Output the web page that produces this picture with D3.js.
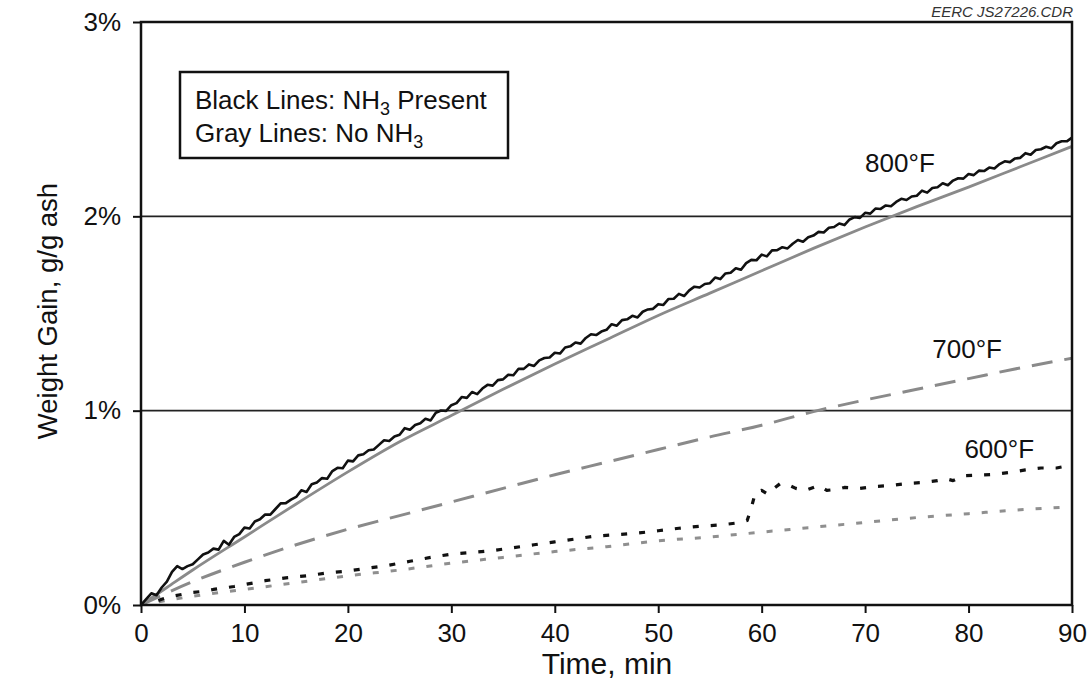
<!DOCTYPE html>
<html>
<head>
<meta charset="utf-8">
<script src="https://cdn.jsdelivr.net/npm/d3@7"></script>
<style>
  html, body { margin: 0; padding: 0; background: #fff; }
  svg { display: block; font-family: "Liberation Sans", Arial, Helvetica, sans-serif; }
</style>
</head>
<body>
<svg id="chart" width="1091" height="691"></svg>
<script>
// Weight gain (% g/g ash) versus exposure time (min)

// 800°F with NH3, logged every half minute
const logStep = 0.5;
const nh3_800 = [
  0, 0.03, 0.06, 0.05, 0.09, 0.12, 0.17, 0.20, 0.185, 0.20,
  0.21, 0.235, 0.26, 0.27, 0.29, 0.285, 0.33, 0.31, 0.35, 0.365,
  0.398, 0.394, 0.43, 0.441, 0.466, 0.465, 0.494, 0.523, 0.524, 0.542,
  0.556, 0.59, 0.582, 0.621, 0.63, 0.653, 0.65, 0.689, 0.706, 0.704,
  0.743, 0.739, 0.77, 0.776, 0.796, 0.80, 0.824, 0.848, 0.844, 0.867,
  0.876, 0.91, 0.902, 0.926, 0.935, 0.958, 0.95, 0.989, 1.001, 0.999,
  1.028, 1.039, 1.07, 1.066, 1.096, 1.085, 1.114, 1.133, 1.129, 1.157,
  1.161, 1.185, 1.182, 1.216, 1.215, 1.238, 1.23, 1.259, 1.271, 1.274,
  1.298, 1.294, 1.325, 1.331, 1.351, 1.345, 1.374, 1.393, 1.389, 1.407,
  1.416, 1.445, 1.437, 1.466, 1.47, 1.488, 1.48, 1.509, 1.521, 1.524,
  1.548, 1.544, 1.575, 1.576, 1.601, 1.59, 1.619, 1.638, 1.634, 1.652,
  1.656, 1.685, 1.677, 1.706, 1.71, 1.733, 1.725, 1.759, 1.776, 1.774,
  1.803, 1.794, 1.825, 1.826, 1.841, 1.835, 1.859, 1.878, 1.869, 1.892,
  1.901, 1.92, 1.917, 1.941, 1.945, 1.963, 1.955, 1.984, 1.996, 1.992,
  2.018, 2.014, 2.04, 2.038, 2.056, 2.052, 2.074, 2.09, 2.084, 2.102,
  2.106, 2.132, 2.122, 2.146, 2.15, 2.17, 2.16, 2.184, 2.196, 2.194,
  2.218, 2.212, 2.235, 2.233, 2.251, 2.246, 2.269, 2.283, 2.279, 2.298,
  2.301, 2.325, 2.317, 2.341, 2.345, 2.358, 2.35, 2.376, 2.386, 2.386,
  2.405
];

// 800°F without NH3
const noNh3_800_t = [0, 2.5, 5, 10, 15, 20, 25, 30, 35, 40, 45, 50, 55, 60, 65, 70, 75, 80, 85, 90];
const noNh3_800_v = [0, 0.09, 0.18, 0.35, 0.52, 0.685, 0.84, 0.975, 1.11, 1.24, 1.365, 1.49, 1.605, 1.72, 1.835, 1.945, 2.05, 2.15, 2.255, 2.36];

// 700°F without NH3
const noNh3_700_t = [0, 5, 10, 15, 20, 25, 30, 35, 40, 45, 50, 55, 60, 65, 70, 75, 80, 85, 90];
const noNh3_700_v = [0, 0.12, 0.22, 0.31, 0.39, 0.46, 0.53, 0.60, 0.67, 0.735, 0.80, 0.865, 0.925, 0.995, 1.055, 1.11, 1.165, 1.22, 1.27];

// 600°F with NH3
const nh3_600_t = [0, 1, 2, 3, 4, 5, 6, 7, 8, 9, 10, 12, 14, 16, 18, 20, 22, 24, 26, 28, 30, 32, 34, 36, 38, 40,
  42, 44, 46, 48, 50, 52, 54, 56, 57, 58, 58.6, 59, 59.4, 60, 60.6, 61.2, 61.8, 62.5, 63.3, 64.2, 65, 65.5,
  66.3, 67.3, 68, 69.5, 71, 72.5, 74, 75.5, 77, 77.8, 78.5, 79.5, 81, 82.5, 84, 85.5, 87, 88.5, 90];
const nh3_600_v = [0, 0.01, 0.03, 0.045, 0.055, 0.065, 0.07, 0.08, 0.088, 0.095, 0.105, 0.125, 0.14, 0.15, 0.165,
  0.175, 0.19, 0.205, 0.225, 0.245, 0.262, 0.27, 0.28, 0.295, 0.31, 0.325, 0.34, 0.355, 0.362, 0.37, 0.382,
  0.395, 0.405, 0.412, 0.418, 0.425, 0.435, 0.50, 0.58, 0.59, 0.57, 0.60, 0.625, 0.62, 0.60, 0.59, 0.605,
  0.615, 0.59, 0.595, 0.605, 0.60, 0.61, 0.615, 0.625, 0.63, 0.64, 0.65, 0.64, 0.665, 0.668, 0.672, 0.682,
  0.695, 0.705, 0.705, 0.72];

// 600°F without NH3
const noNh3_600_t = [0, 5, 10, 15, 20, 25, 30, 35, 40, 45, 50, 55, 60, 65, 70, 75, 80, 85, 90];
const noNh3_600_v = [0, 0.045, 0.08, 0.115, 0.15, 0.18, 0.215, 0.245, 0.275, 0.30, 0.33, 0.35, 0.375, 0.40, 0.425, 0.45, 0.47, 0.49, 0.505];

const xTicks = [0, 10, 20, 30, 40, 50, 60, 70, 80, 90];
const yTicks = [0, 1, 2, 3];
const gridValues = [1, 2];

const tempLabels = [
  { text: "800°F", t: 70.0, v: 2.23 },
  { text: "700°F", t: 76.5, v: 1.27 },
  { text: "600°F", t: 79.6, v: 0.755 }
];

const svg = d3.select("#chart");
const plotLeft = 141, plotRight = 1072, plotTop = 22, plotBottom = 605;

const x = d3.scaleLinear().domain([0, 90]).range([plotLeft, plotRight]);
const y = d3.scaleLinear().domain([0, 3]).range([plotBottom, plotTop]);

const zip = (ts, vs) => ts.map((t, i) => ({ t, v: vs[i] }));
const series = [
  { data: zip(noNh3_600_t, noNh3_600_v), color: "#8f8f8f", width: 3, dash: "6,12", curve: d3.curveMonotoneX },
  { data: zip(nh3_600_t, nh3_600_v), color: "#111", width: 3.2, dash: "6,12", curve: d3.curveLinear },
  { data: zip(noNh3_700_t, noNh3_700_v), color: "#8a8a8a", width: 3, dash: "21,12", curve: d3.curveMonotoneX },
  { data: zip(noNh3_800_t, noNh3_800_v), color: "#8a8a8a", width: 2.8, dash: null, curve: d3.curveMonotoneX },
  { data: nh3_800.map((v, i) => ({ t: i * logStep, v })), color: "#111", width: 2.6, dash: null, curve: d3.curveLinear }
];

// grid lines
svg.append("g").selectAll("line").data(gridValues).join("line")
  .attr("x1", plotLeft).attr("x2", plotRight)
  .attr("y1", d => y(d)).attr("y2", d => y(d))
  .attr("stroke", "#222").attr("stroke-width", 1.6);

// data lines
svg.append("clipPath").attr("id", "plotClip")
  .append("rect").attr("x", plotLeft).attr("y", plotTop)
  .attr("width", plotRight - plotLeft).attr("height", plotBottom - plotTop);

const lines = svg.append("g").attr("clip-path", "url(#plotClip)");
series.forEach(s => {
  const gen = d3.line().x(d => x(d.t)).y(d => y(d.v)).curve(s.curve);
  lines.append("path")
    .datum(s.data)
    .attr("d", gen)
    .attr("fill", "none")
    .attr("stroke", s.color)
    .attr("stroke-width", s.width)
    .attr("stroke-linejoin", "round")
    .attr("stroke-dasharray", s.dash);
});

// frame
svg.append("rect")
  .attr("x", plotLeft).attr("y", plotTop)
  .attr("width", plotRight - plotLeft).attr("height", plotBottom - plotTop)
  .attr("fill", "none").attr("stroke", "#111").attr("stroke-width", 2.5);

// axes
const yAxis = svg.append("g").attr("transform", `translate(${plotLeft},0)`)
  .call(d3.axisLeft(y).tickValues(yTicks).tickSize(8).tickPadding(12).tickFormat(d => d + "%"));
const xAxis = svg.append("g").attr("transform", `translate(0,${plotBottom})`)
  .call(d3.axisBottom(x).tickValues(xTicks).tickSize(8).tickPadding(11).tickFormat(d3.format("d")));
[yAxis, xAxis].forEach(a => {
  a.select(".domain").remove();
  a.selectAll(".tick line").attr("stroke", "#111").attr("stroke-width", 2);
  a.selectAll(".tick text").attr("font-size", 26).attr("fill", "#111")
    .attr("font-family", "'Liberation Sans', Arial, sans-serif");
});

// axis titles
svg.append("text")
  .attr("x", 607).attr("y", 674)
  .attr("text-anchor", "middle").attr("font-size", 30).attr("fill", "#111")
  .text("Time, min");
svg.append("text")
  .attr("transform", "translate(57,311) rotate(-90)")
  .attr("text-anchor", "middle").attr("font-size", 27.5).attr("fill", "#111")
  .text("Weight Gain, g/g ash");

// drawing id
svg.append("text")
  .attr("x", plotRight + 1).attr("y", 17)
  .attr("text-anchor", "end").attr("font-size", 15).attr("font-style", "italic").attr("fill", "#333")
  .text("EERC JS27226.CDR");

// temperature labels
svg.append("g").selectAll("text").data(tempLabels).join("text")
  .attr("x", d => x(d.t)).attr("y", d => y(d.v))
  .attr("text-anchor", "start").attr("font-size", 26).attr("fill", "#111")
  .text(d => d.text);

// legend box
const legend = svg.append("g");
legend.append("rect")
  .attr("x", 180).attr("y", 72).attr("width", 328).attr("height", 86)
  .attr("fill", "#fff").attr("stroke", "#111").attr("stroke-width", 2.5);
const l1 = legend.append("text").attr("x", 195).attr("y", 109).attr("font-size", 26).attr("fill", "#111");
l1.append("tspan").text("Black Lines: NH");
l1.append("tspan").attr("font-size", 18).attr("dy", 6).text("3");
l1.append("tspan").attr("dy", -6).text(" Present");
const l2 = legend.append("text").attr("x", 195).attr("y", 142).attr("font-size", 26).attr("fill", "#111");
l2.append("tspan").text("Gray Lines: No NH");
l2.append("tspan").attr("font-size", 18).attr("dy", 6).text("3");
</script>
</body>
</html>
